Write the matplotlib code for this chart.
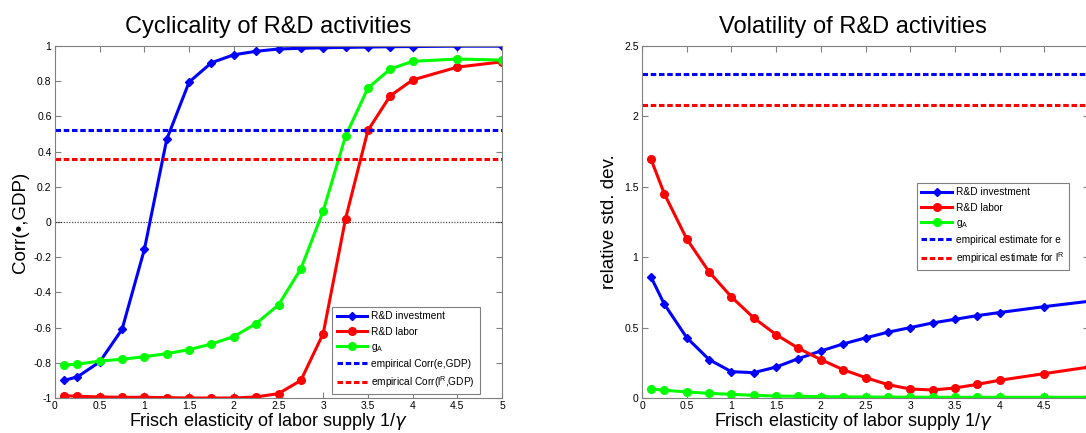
import matplotlib
matplotlib.use('Agg')
import matplotlib.pyplot as plt

plt.rcParams['font.family'] = ['Liberation Sans', 'DejaVu Sans']
plt.rcParams['mathtext.default'] = 'regular'

# Frisch elasticity grid
frisch = [0.1, 0.25, 0.5, 0.75, 1, 1.25, 1.5, 1.75, 2, 2.25, 2.5, 2.75,
          3, 3.25, 3.5, 3.75, 4, 4.5, 5]

# cyclicality: Corr(., GDP)
corr_invest = [-0.90, -0.88, -0.795, -0.61, -0.155, 0.47, 0.795, 0.905, 0.95, 0.97,
               0.983, 0.987, 0.99, 0.992, 0.994, 0.996, 0.997, 0.999, 0.999]
corr_labor = [-0.987, -0.99, -0.994, -0.996, -0.996, -0.998, -1.0, -1.0, -1.0, -0.994,
              -0.975, -0.90, -0.634, 0.018, 0.52, 0.717, 0.807, 0.88, 0.91]
corr_gA = [-0.812, -0.808, -0.79, -0.78, -0.765, -0.748, -0.725, -0.693, -0.651, -0.577,
           -0.471, -0.266, 0.063, 0.488, 0.761, 0.869, 0.913, 0.926, 0.920]
emp_corr_e = 0.52
emp_corr_l = 0.358

# volatility: relative std. dev.
vol_invest = [0.86, 0.666, 0.429, 0.273, 0.187, 0.18, 0.22, 0.28, 0.334, 0.384,
              0.427, 0.467, 0.50, 0.533, 0.559, 0.585, 0.607, 0.649, 0.687]
vol_labor = [1.697, 1.45, 1.13, 0.896, 0.718, 0.569, 0.45, 0.353, 0.273, 0.201,
             0.145, 0.095, 0.064, 0.057, 0.071, 0.097, 0.126, 0.173, 0.22]
vol_gA = [0.064, 0.055, 0.043, 0.033, 0.026, 0.019, 0.014, 0.012, 0.010, 0.008,
          0.007, 0.006, 0.006, 0.005, 0.005, 0.005, 0.005, 0.005, 0.005]
emp_vol_e = 2.30
emp_vol_l = 2.08

xlabel = r'Frisch elasticity of labor supply 1/$\mathit{\gamma}$'
spine_col = '#808080'


def style_axes(ax):
    for s in ax.spines.values():
        s.set_color(spine_col)
        s.set_linewidth(0.8)
    ax.tick_params(direction='in', top=True, right=True, length=4,
                   color=spine_col, labelsize=7.5, pad=2.5)


def plot_series(ax, y1, y2, y3):
    ax.plot(frisch, y1, color='#0000ff', lw=2.2, marker='D', ms=4.5, label='R&D investment')
    ax.plot(frisch, y2, color='#ff0000', lw=2.2, marker='o', ms=5.5, label='R&D labor')
    ax.plot(frisch, y3, color='#00ff00', lw=2.2, marker='o', ms=5.5, label='$g_A$')


def add_legend(ax, **kw):
    leg = ax.legend(fontsize=7.3, fancybox=False, edgecolor=spine_col, framealpha=1,
                    handlelength=3.0, handletextpad=0.4, borderaxespad=0,
                    labelspacing=0.5, borderpad=0.45, **kw)
    leg.get_frame().set_linewidth(0.8)
    return leg


fig = plt.figure(figsize=(10.86, 4.33), dpi=100)
ax1 = fig.add_axes([55 / 1086, 35 / 433, 447 / 1086, 352 / 433])
ax2 = fig.add_axes([642 / 1086, 35 / 433, 447 / 1086, 352 / 433])

# left panel
ax1.axhline(0, color='k', lw=0.9, ls=(0, (1, 1.2)), alpha=0.7)
plot_series(ax1, corr_invest, corr_labor, corr_gA)
ax1.axhline(emp_corr_e, color='#0000ff', lw=2.2, ls=(0, (1.8, 0.9)), label='empirical Corr(e,GDP)')
ax1.axhline(emp_corr_l, color='#ff0000', lw=2.2, ls=(0, (1.8, 0.9)), label='empirical Corr($l^R$,GDP)')
ax1.set_xlim(0, 5)
ax1.set_ylim(-1, 1)
ax1.set_xticks([0, 0.5, 1, 1.5, 2, 2.5, 3, 3.5, 4, 4.5, 5])
ax1.set_xticklabels(['0', '0.5', '1', '1.5', '2', '2.5', '3', '3.5', '4', '4.5', '5'])
ax1.set_yticks([-1, -0.8, -0.6, -0.4, -0.2, 0, 0.2, 0.4, 0.6, 0.8, 1])
ax1.set_yticklabels(['-1', '-0.8', '-0.6', '-0.4', '-0.2', '0', '0.2', '0.4', '0.6', '0.8', '1'])
style_axes(ax1)
ax1.set_title('Cyclicality of R&D activities', fontsize=17, x=0.476, pad=9)
ax1.set_xlabel(xlabel, fontsize=13, x=0.476, labelpad=0)
ax1.set_ylabel('Corr(\u2022,GDP)', fontsize=13.5, labelpad=3)
add_legend(ax1, loc='lower right', bbox_to_anchor=(0.95, 0.011))

# right panel
plot_series(ax2, vol_invest, vol_labor, vol_gA)
ax2.axhline(emp_vol_e, color='#0000ff', lw=2.2, ls=(0, (1.8, 0.9)), label='empirical estimate for e')
ax2.axhline(emp_vol_l, color='#ff0000', lw=2.2, ls=(0, (1.8, 0.9)), label='empirical estimate for $l^R$')
ax2.set_xlim(0, 5)
ax2.set_ylim(0, 2.5)
ax2.set_xticks([0, 0.5, 1, 1.5, 2, 2.5, 3, 3.5, 4, 4.5, 5])
ax2.set_xticklabels(['0', '0.5', '1', '1.5', '2', '2.5', '3', '3.5', '4', '4.5', ''])
ax2.set_yticks([0, 0.5, 1, 1.5, 2, 2.5])
ax2.set_yticklabels(['0', '0.5', '1', '1.5', '2', '2.5'])
style_axes(ax2)
ax2.set_title('Volatility of R&D activities', fontsize=17, x=0.472, pad=9)
ax2.set_xlabel(xlabel, fontsize=13, x=0.472, labelpad=0)
ax2.set_ylabel('relative std. dev.', fontsize=13.5, labelpad=4)
add_legend(ax2, loc='upper left', bbox_to_anchor=(0.615, 0.611))

fig.savefig('out.png', dpi=100)
